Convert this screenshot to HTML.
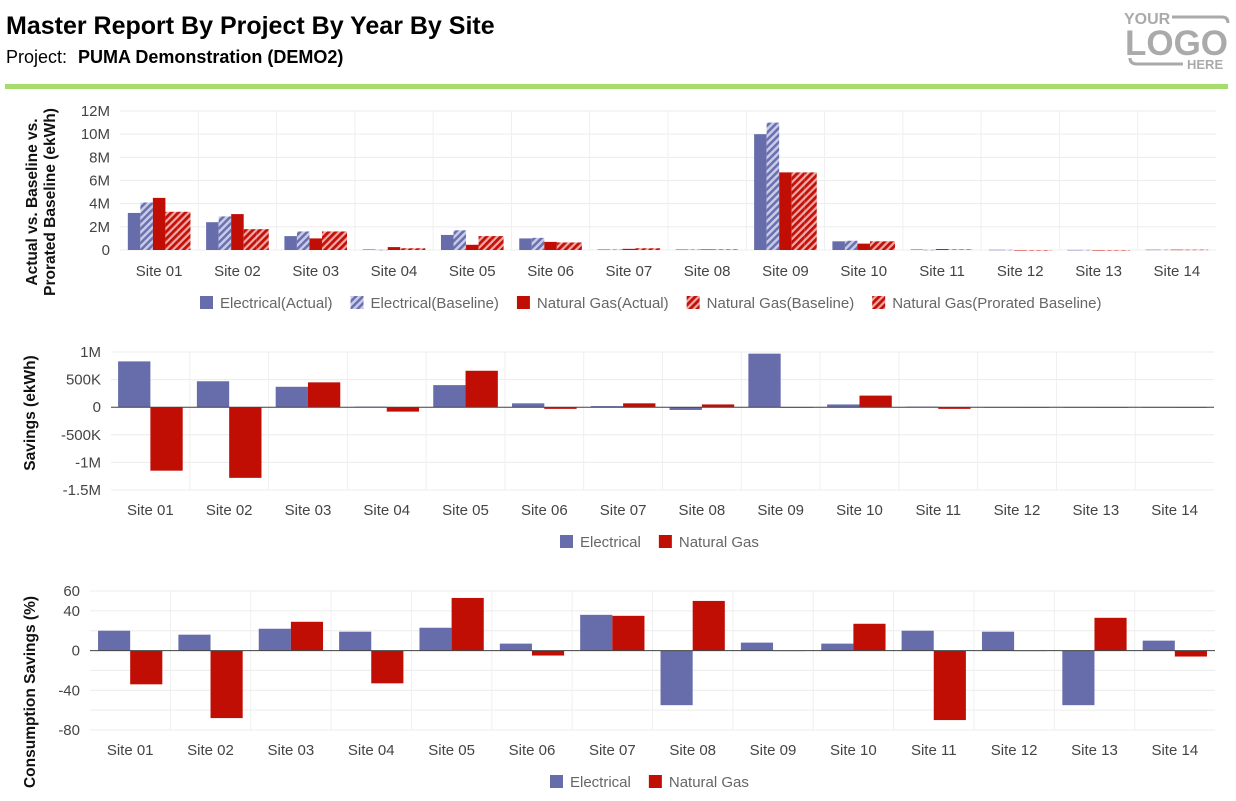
<!DOCTYPE html>
<html><head><meta charset="utf-8"><style>
body{margin:0;background:#fff;font-family:"Liberation Sans",sans-serif;}
#wrap{position:relative;width:1236px;height:801px;overflow:hidden;}
svg text{font-family:"Liberation Sans",sans-serif;}
</style></head><body>
<div id="wrap">
<svg id="svg" width="1236" height="801" xmlns="http://www.w3.org/2000/svg">
<defs>
<pattern id="hb" patternUnits="userSpaceOnUse" width="5" height="5" patternTransform="rotate(45)"><rect width="5" height="5" fill="#c8cbe6"/><rect width="2.5" height="5" fill="#6a70b0"/></pattern>
<pattern id="hr" patternUnits="userSpaceOnUse" width="5" height="5" patternTransform="rotate(45)"><rect width="5" height="5" fill="#f0a8a8"/><rect width="2.8" height="5" fill="#c21208"/></pattern>
</defs>
<text x="6" y="34" font-size="25" font-weight="bold" fill="#000">Master Report By Project By Year By Site</text>
<text x="6" y="63" font-size="18" fill="#000">Project: <tspan font-weight="bold" dx="6">PUMA Demonstration (DEMO2)</tspan></text>
<g fill="#aaa">
<text x="1124" y="24" font-size="16" font-weight="bold" fill="#aaa">YOUR</text>
<text x="1125" y="55" font-size="35" font-weight="bold" fill="#aaa" textLength="103" lengthAdjust="spacingAndGlyphs">LOGO</text>
<text x="1187" y="69" font-size="13" font-weight="bold" fill="#aaa">HERE</text>
<path d="M1172 17 H1222 Q1228 17 1228 23" stroke="#aaa" stroke-width="3" fill="none"/>
<path d="M1130 58 Q1130 64 1137 64 H1183" stroke="#aaa" stroke-width="3" fill="none"/>
</g>
<rect x="5" y="84" width="1223" height="5" fill="#a6dc6c"/>
<g id="c1"></g>
<g id="c2"></g>
<g id="c3"></g>
</svg>
</div>
<script>
const sites=["Site 01","Site 02","Site 03","Site 04","Site 05","Site 06","Site 07","Site 08","Site 09","Site 10","Site 11","Site 12","Site 13","Site 14"];
const elecActual=[3.2,2.4,1.2,0.05,1.3,1.0,0.05,0.05,10.0,0.75,0.05,0.02,0.01,0.03];
const elecBaseline=[4.1,2.9,1.6,0.02,1.7,1.05,0.05,0.05,11.0,0.8,0.02,0.02,0.01,0.03];
const gasActual=[4.5,3.1,1.0,0.25,0.45,0.7,0.1,0.05,6.7,0.55,0.08,0,0,0.03];
const gasBaseline=[3.3,1.8,1.6,0.15,1.2,0.65,0.15,0.05,6.7,0.75,0.05,0,0,0.03];
const gasProrated=[3.3,1.8,1.6,0.15,1.2,0.65,0.15,0.05,6.7,0.75,0.05,0,0,0.03];
const ticks1=[0,2,4,6,8,10,12];
const tickLabels1=["0","2M","4M","6M","8M","10M","12M"];
const elecSavings=[830,470,370,10,400,70,20,-50,970,50,10,0,0,0];
const gasSavings=[-1150,-1280,450,-80,660,-30,70,50,0,210,-30,0,0,0];
const ticks2=[1000,500,0,-500,-1000,-1500];
const tickLabels2=["1M","500K","0","-500K","-1M","-1.5M"];
const elecPct=[20,16,22,19,23,7,36,-55,8,7,20,19,-55,10];
const gasPct=[-34,-68,29,-33,53,-5,35,50,0,27,-70,0,33,-6];
const ticks3=[60,40,20,0,-20,-40,-60,-80];
const tickLabels3=["60","40","","0","","-40","","-80"];

const NS="http://www.w3.org/2000/svg";
function mk(p,tag,a,txt){const e=document.createElementNS(NS,tag);for(const k in a)e.setAttribute(k,a[k]);if(txt!==undefined)e.textContent=txt;p.appendChild(e);return e;}
const BLUE="#676dab",RED="#c00e05",TXT="#444";

function chart(g,o){
  const y=v=>o.y0-(v-o.vmin)/(o.vmax-o.vmin)*(o.y0-o.y1);
  const bw=(o.x1-o.x0)/sites.length;
  const x=i=>o.x0+i*bw;
  o.ticks.forEach((t,k)=>{
    const l=mk(g,'line',{x1:o.x0,x2:o.x1,y1:y(t),y2:y(t),stroke:'#ececec','stroke-width':1});
    
    
    if(o.labels[k]){const tx=mk(g,'text',{x:o.x0-10,y:y(t)+5,'font-size':15,'text-anchor':'end',fill:TXT},o.labels[k]);
    
    }
  });
  for(let i=1;i<sites.length;i++){mk(g,'line',{x1:x(i),x2:x(i),y1:y(o.vmax),y2:y(o.vmin),stroke:'#efefef'});}
  sites.forEach((s,i)=>{
    const n=o.series.length,span=bw*o.frac,bwid=span/n,start=x(i)+(bw-span)/2;
    o.series.forEach((ser,j)=>{
      const v=ser.data[i],y0=y(0),yv=y(v);
      const r=mk(g,'rect',{x:start+j*bwid,y:Math.min(y0,yv),width:bwid,height:Math.max(Math.abs(yv-y0),0.5),fill:ser.fill});
      
      
    });
    const t=mk(g,'text',{x:x(i)+bw/2,y:o.labelY,'font-size':15,'text-anchor':'middle',fill:TXT},s);
    
    
  });
  if(o.zeroLine){mk(g,'line',{x1:o.x0,x2:o.x1,y1:y(0),y2:y(0),stroke:'#444','stroke-width':1});}
  o.title.forEach((tl,k)=>{
    const t=mk(g,'text',{transform:`translate(${o.titleX+k*18},${o.titleY}) rotate(-90)`,'font-size':15.5,'font-weight':'bold','text-anchor':'middle',fill:'#111'},tl);
    
    
  });
  let lx=o.legX;
  o.series.forEach(ser=>{
    const lg=mk(g,'g',{});
    
    
    mk(lg,'rect',{x:lx,y:o.legY-13,width:13,height:13,fill:ser.fill});
    const t=mk(lg,'text',{x:lx+20,y:o.legY-1,'font-size':15,fill:'#666'},ser.name);
    lx+=20+t.getComputedTextLength()+18;
  });
}
chart(document.getElementById('c1'),{x0:120,x1:1216,y0:250,y1:111,vmin:0,vmax:12,ticks:ticks1,labels:tickLabels1,frac:0.8,labelY:276,
 series:[{key:'elec-actual',name:'Electrical(Actual)',data:elecActual,fill:BLUE},{key:'elec-baseline',name:'Electrical(Baseline)',data:elecBaseline,fill:'url(#hb)'},
 {key:'gas-actual',name:'Natural Gas(Actual)',data:gasActual,fill:RED},{key:'gas-baseline',name:'Natural Gas(Baseline)',data:gasBaseline,fill:'url(#hr)'},{key:'gas-prorated',name:'Natural Gas(Prorated Baseline)',data:gasProrated,fill:'url(#hr)'}],
 title:["Actual vs. Baseline vs.","Prorated Baseline (ekWh)"],titleX:37,titleY:202,legX:200,legY:309});
chart(document.getElementById('c2'),{x0:111,x1:1214,y0:490,y1:352,vmin:-1500,vmax:1000,ticks:ticks2,labels:tickLabels2,frac:0.82,labelY:515,zeroLine:true,
 series:[{key:'elec',name:'Electrical',data:elecSavings,fill:BLUE},{key:'gas',name:'Natural Gas',data:gasSavings,fill:RED}],
 title:["Savings (ekWh)"],titleX:35,titleY:413,legX:560,legY:548});
chart(document.getElementById('c3'),{x0:90,x1:1215,y0:730,y1:591,vmin:-80,vmax:60,ticks:ticks3,labels:tickLabels3,frac:0.8,labelY:755,zeroLine:true,
 series:[{key:'elec',name:'Electrical',data:elecPct,fill:BLUE},{key:'gas',name:'Natural Gas',data:gasPct,fill:RED}],
 title:["Consumption Savings (%)"],titleX:35,titleY:692,legX:550,legY:788});
</script>
</body></html>
